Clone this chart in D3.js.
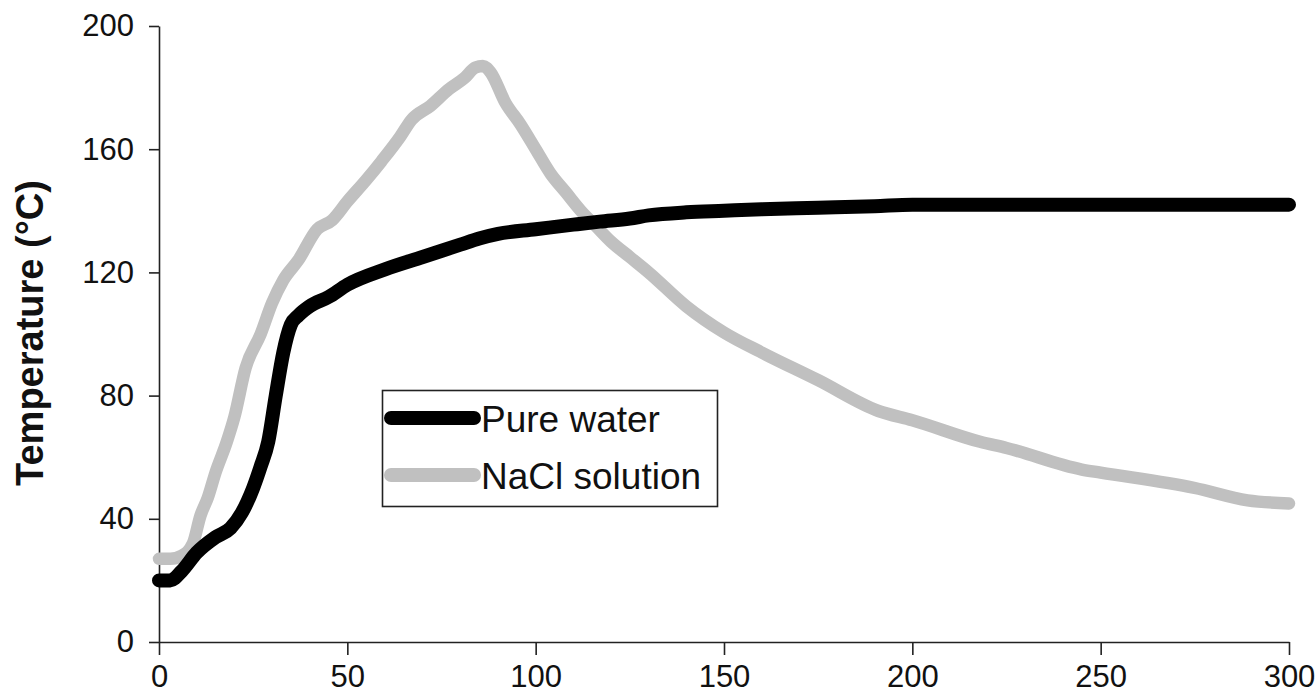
<!DOCTYPE html>
<html>
<head>
<meta charset="utf-8">
<script src="https://cdn.jsdelivr.net/npm/d3@7"></script>
<style>
  body { margin: 0; background: #fff; }
  text { font-family: "Liberation Sans", Arial, sans-serif; fill: #111; }
</style>
</head>
<body>
<div id="chart"></div>
<script>
// time (s) and temperature (°C)
var waterTime = [0, 3, 6, 10, 15, 19, 22, 25, 27, 29, 31, 33, 35, 37, 40, 45, 50, 60, 70, 80, 85, 90, 100, 110, 117, 125, 130, 140, 150, 160, 175, 190, 200, 225, 250, 275, 300];
var waterTemp = [20, 20, 23, 29, 34, 37, 42, 50, 57, 65, 80, 94, 103, 106, 109, 112, 116, 121, 125, 129, 131, 132.5, 134, 135.5, 136.5, 137.5, 138.5, 139.5, 140, 140.5, 141, 141.5, 142, 142, 142, 142, 142];

var naclTime = [0, 3, 6, 9, 11, 13, 15, 18, 20, 23, 27, 30, 33, 37, 42, 46, 50, 55, 59, 64, 67, 72, 77, 81, 84, 86, 88, 92, 96, 100, 104, 108, 112, 116, 120, 125, 130, 140, 150, 160, 175, 191, 200, 218, 225, 245, 250, 275, 289, 300];
var naclTemp = [27, 27, 28, 32, 41, 47, 55, 65, 73, 89, 100, 110, 117.5, 124, 134, 137, 143, 150, 156, 164, 169.5, 174, 179.5, 183, 186.5, 187, 185, 175, 168, 160, 152, 146, 140, 135, 130, 125, 120, 109, 100.5, 94, 85, 75, 72, 65, 63, 56, 55, 50, 46, 45];

var xTicks = [0, 50, 100, 150, 200, 250, 300];
var yTicks = [0, 40, 80, 120, 160, 200];

var seriesNames = ["Pure water", "NaCl solution"];
var seriesColors = ["#000000", "#c0c0c0"];

var width = 1316, height = 696;
var margin = { top: 26, right: 27, bottom: 54, left: 159 };

var svg = d3.select("#chart")
    .append("svg")
    .attr("width", width)
    .attr("height", height);

var x = d3.scaleLinear()
    .domain([0, 300])
    .range([margin.left, width - margin.right]);

var y = d3.scaleLinear()
    .domain([0, 200])
    .range([height - margin.bottom, margin.top]);

var line = d3.line()
    .x(function (d) { return x(d[0]); })
    .y(function (d) { return y(d[1]); })
    .curve(d3.curveMonotoneX);

var series = [
    d3.zip(waterTime, waterTemp),
    d3.zip(naclTime, naclTemp)
];

// axes
var xAxis = svg.append("g")
    .attr("transform", "translate(0," + y(0) + ")")
    .call(d3.axisBottom(x).tickValues(xTicks).tickSize(13).tickPadding(10).tickSizeOuter(0));

var yAxis = svg.append("g")
    .attr("transform", "translate(" + x(0) + ",0)")
    .call(d3.axisLeft(y).tickValues(yTicks).tickSize(10).tickPadding(15).tickSizeOuter(0));

[xAxis, yAxis].forEach(function (a) {
    a.selectAll("path, line").attr("stroke", "#222").attr("stroke-width", 1.6);
    a.selectAll("text")
        .style("font-family", "'Liberation Sans', Arial, sans-serif")
        .style("font-size", "31px")
        .attr("fill", "#111");
});

// lines: grey drawn first, then black on top
[1, 0].forEach(function (i) {
    svg.append("path")
        .datum(series[i])
        .attr("fill", "none")
        .attr("stroke", seriesColors[i])
        .attr("stroke-width", i === 0 ? 14 : 12.5)
        .attr("stroke-linejoin", "round")
        .attr("stroke-linecap", "round")
        .attr("d", line);
});

// y title
svg.append("text")
    .attr("transform", "translate(43," + 333 + ") rotate(-90)")
    .attr("text-anchor", "middle")
    .style("font-size", "38px")
    .style("font-weight", "bold")
    .text("Temperature (°C)");

// legend
var legend = svg.append("g");
legend.append("rect")
    .attr("x", 382.5)
    .attr("y", 390.5)
    .attr("width", 335)
    .attr("height", 116)
    .attr("fill", "#fff")
    .attr("stroke", "#222")
    .attr("stroke-width", 1.6);

seriesNames.forEach(function (name, i) {
    var ly = 418 + i * 57;
    legend.append("line")
        .attr("x1", 391)
        .attr("x2", 474)
        .attr("y1", ly)
        .attr("y2", ly)
        .attr("stroke", seriesColors[i])
        .attr("stroke-width", 14)
        .attr("stroke-linecap", "round");
    legend.append("text")
        .attr("x", 481)
        .attr("y", ly + 14)
        .style("font-size", "37px")
        .text(name);
});
</script>
</body>
</html>
